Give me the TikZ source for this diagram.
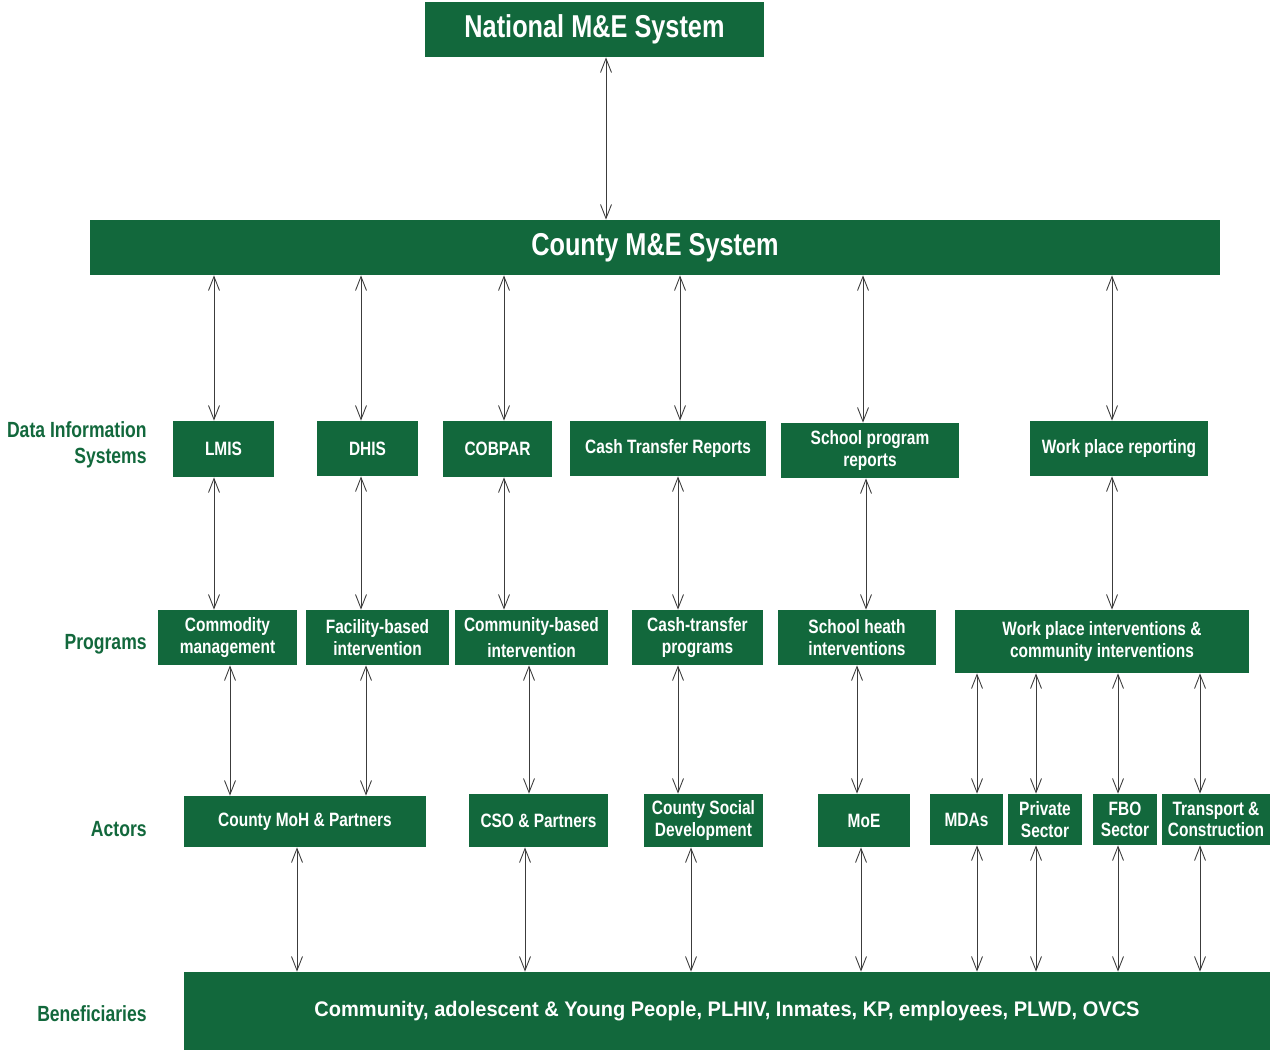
\documentclass[tikz,border=0pt]{standalone}
\usepackage{fontspec}
\setmainfont[FakeStretch=0.8]{Liberation Sans}
\newfontfamily\widefont[FakeStretch=0.95]{Liberation Sans}
\usetikzlibrary{arrows.meta}
\definecolor{megreen}{RGB}{18,104,60}
\definecolor{linkgray}{RGB}{60,60,60}
\newlength\px
\setlength\px{0.02cm}

\begin{document}
\begin{tikzpicture}[x=0.02cm, y=-0.02cm,
  box/.style={fill=megreen, text=white, inner sep=0pt, align=center, font=\bfseries\fontsize{11}{12.2}\selectfont},
  bigbox/.style={box, font=\bfseries\fontsize{18}{21}\selectfont},
  benbox/.style={box, font=\widefont\bfseries\fontsize{12}{14}\selectfont},
  rowlabel/.style={text=megreen, anchor=east, align=right, inner sep=0pt, font=\bfseries\fontsize{12.5}{14.8}\selectfont},
  link/.style={linkgray, line width=0.5pt, {Straight Barb[length=2.8mm,width=2.2mm]}-{Straight Barb[length=2.8mm,width=2.2mm]}}]

\useasboundingbox (0,0) rectangle (1270,1051);

% top
\node[bigbox, minimum width=339\px, minimum height=55\px] (national) at (594.5,29.5) {National M\&E System};
\node[bigbox, minimum width=1130\px, minimum height=55\px] (county) at (655,247.5) {County M\&E System};

% row labels
\node[rowlabel] (dislabel) at (147,445) {Data Information\\Systems};
\node[rowlabel] (proglabel) at (147,644) {Programs};
\node[rowlabel] (actlabel) at (147,829) {Actors};
\node[rowlabel] (benlabel) at (147,1014) {Beneficiaries};

% data information systems
\node[box, minimum width=101\px, minimum height=56\px] (lmis) at (223.5,449) {LMIS};
\node[box, minimum width=101\px, minimum height=55\px] (dhis) at (367.5,448.5) {DHIS};
\node[box, minimum width=109\px, minimum height=56\px] (cobpar) at (497.5,449) {COBPAR};
\node[box, minimum width=196\px, minimum height=55\px] (cashrep) at (668,448.5) {Cash Transfer Reports};
\node[box, minimum width=178\px, minimum height=55\px] (schoolrep) at (870,450.5) {School program\\reports};
\node[box, minimum width=178\px, minimum height=55\px] (workrep) at (1119,448.5) {Work place reporting};

% programs
\node[box, minimum width=139\px, minimum height=55\px] (commodity) at (227.5,637.5) {Commodity\\management};
\node[box, minimum width=143\px, minimum height=55\px] (facility) at (377.5,637.5) {Facility-based\\intervention};
\node[box, minimum width=153\px, minimum height=55\px, font=\bfseries\fontsize{11}{15}\selectfont] (community) at (531.5,637.5) {Community-based\\intervention};
\node[box, minimum width=131\px, minimum height=55\px] (cashprog) at (697.5,637.5) {Cash-transfer\\programs};
\node[box, minimum width=158\px, minimum height=55\px] (schoolint) at (857,637.5) {School heath\\interventions};
\node[box, minimum width=294\px, minimum height=63\px] (workint) at (1102,641.5) {Work place interventions \&\\community interventions};

% actors
\node[box, minimum width=242\px, minimum height=51\px] (countymoh) at (305,821.5) {County MoH \& Partners};
\node[box, minimum width=139\px, minimum height=53\px] (cso) at (538.5,820.5) {CSO \& Partners};
\node[box, minimum width=119\px, minimum height=53\px] (socdev) at (703.5,820.5) {County Social\\Development};
\node[box, minimum width=92\px, minimum height=53\px] (moe) at (864,820.5) {MoE};
\node[box, minimum width=73\px, minimum height=51\px] (mdas) at (966.5,819.5) {MDAs};
\node[box, minimum width=74\px, minimum height=51\px] (private) at (1045,819.5) {Private\\Sector};
\node[box, minimum width=64\px, minimum height=51\px] (fbo) at (1125,819.5) {FBO\\Sector};
\node[box, minimum width=108\px, minimum height=51\px] (transport) at (1216,819.5) {Transport \&\\Construction};

% beneficiaries
\node[benbox, minimum width=1086\px, minimum height=78\px] (benef) at (727,1011) {Community, adolescent \& Young People, PLHIV, Inmates, KP, employees, PLWD, OVCS};

% national - county
\draw[link] ([xshift=11.5\px]national.south) -- ([xshift=11.5\px]national.south |- county.north);

% county - data systems
\draw[link] ([xshift=-9.5\px]lmis.north |- county.south) -- ([xshift=-9.5\px]lmis.north);
\draw[link] ([xshift=-6.5\px]dhis.north |- county.south) -- ([xshift=-6.5\px]dhis.north);
\draw[link] ([xshift=6.5\px]cobpar.north |- county.south) -- ([xshift=6.5\px]cobpar.north);
\draw[link] ([xshift=12\px]cashrep.north |- county.south) -- ([xshift=12\px]cashrep.north);
\draw[link] ([xshift=-7\px]schoolrep.north |- county.south) -- ([xshift=-7\px]schoolrep.north);
\draw[link] ([xshift=-7\px]workrep.north |- county.south) -- ([xshift=-7\px]workrep.north);

% data systems - programs
\draw[link] ([xshift=-9.5\px]lmis.south) -- ([xshift=-9.5\px]lmis.south |- commodity.north);
\draw[link] ([xshift=-6.5\px]dhis.south) -- ([xshift=-6.5\px]dhis.south |- facility.north);
\draw[link] ([xshift=6.5\px]cobpar.south) -- ([xshift=6.5\px]cobpar.south |- community.north);
\draw[link] ([xshift=10\px]cashrep.south) -- ([xshift=10\px]cashrep.south |- cashprog.north);
\draw[link] ([xshift=-4\px]schoolrep.south) -- ([xshift=-4\px]schoolrep.south |- schoolint.north);
\draw[link] ([xshift=-7\px]workrep.south) -- ([xshift=-7\px]workrep.south |- workint.north);

% programs - actors
\draw[link] ([xshift=2.5\px]commodity.south) -- ([xshift=2.5\px]commodity.south |- countymoh.north);
\draw[link] ([xshift=-11.5\px]facility.south) -- ([xshift=-11.5\px]facility.south |- countymoh.north);
\draw[link] ([xshift=-2.5\px]community.south) -- ([xshift=-2.5\px]community.south |- cso.north);
\draw[link] ([xshift=-19.5\px]cashprog.south) -- ([xshift=-19.5\px]cashprog.south |- socdev.north);
\draw[link] (schoolint.south) -- (schoolint.south |- moe.north);
\draw[link] ([xshift=10.5\px]mdas.north) -- ([xshift=10.5\px]mdas.north |- workint.south);
\draw[link] ([xshift=-9\px]private.north) -- ([xshift=-9\px]private.north |- workint.south);
\draw[link] ([xshift=-7\px]fbo.north) -- ([xshift=-7\px]fbo.north |- workint.south);
\draw[link] ([xshift=-16\px]transport.north) -- ([xshift=-16\px]transport.north |- workint.south);

% actors - beneficiaries
\draw[link] ([xshift=-8\px]countymoh.south) -- ([xshift=-8\px]countymoh.south |- benef.north);
\draw[link] ([xshift=-13.5\px]cso.south) -- ([xshift=-13.5\px]cso.south |- benef.north);
\draw[link] ([xshift=-12.5\px]socdev.south) -- ([xshift=-12.5\px]socdev.south |- benef.north);
\draw[link] ([xshift=-3\px]moe.south) -- ([xshift=-3\px]moe.south |- benef.north);
\draw[link] ([xshift=10.5\px]mdas.south) -- ([xshift=10.5\px]mdas.south |- benef.north);
\draw[link] ([xshift=-9\px]private.south) -- ([xshift=-9\px]private.south |- benef.north);
\draw[link] ([xshift=-7\px]fbo.south) -- ([xshift=-7\px]fbo.south |- benef.north);
\draw[link] ([xshift=-16\px]transport.south) -- ([xshift=-16\px]transport.south |- benef.north);

\end{tikzpicture}
\end{document}
